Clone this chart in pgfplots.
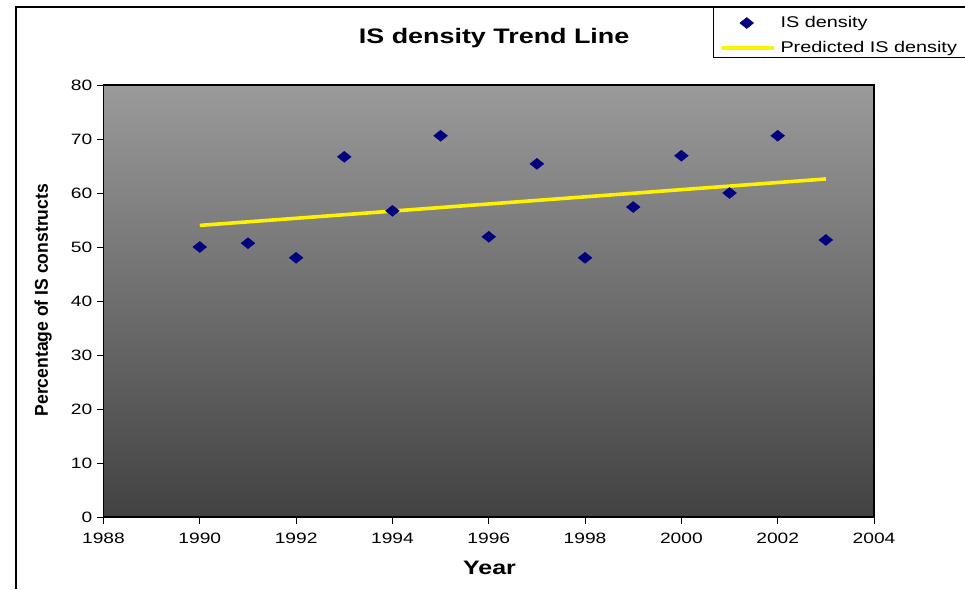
\documentclass[border=0pt]{standalone}
\usepackage{pgfplots}
\pgfplotsset{compat=1.18}
\usepackage{fontspec}
\setmainfont{Liberation Sans}[FakeStretch=1.28]
\newfontfamily\ylabfont{Liberation Sans}[FakeStretch=0.95]
\definecolor{bgtop}{RGB}{154,154,154}
\definecolor{bgbot}{RGB}{66,66,66}
\definecolor{navy}{RGB}{0,0,128}
\pgfplotsset{
  markleg/.style={legend image code/.code={\path (0pt,-2pt) (52pt,2pt);
     \draw[##1] plot coordinates {(25pt,0pt)};}},
  lineleg/.style={legend image code/.code={\path (0pt,-2pt) (52pt,2pt);
     \draw[##1] (0pt,0pt) -- (52pt,0pt);}},
}
\begin{document}
\begin{tikzpicture}[x=1pt,y=1pt]
\useasboundingbox (0,0) rectangle (965,589);
\begin{axis}[
  at={(103.5pt,72pt)}, anchor=south west,
  scale only axis, width=770.5pt, height=432pt,
  xmin=1988, xmax=2004, ymin=0, ymax=80,
  xtick distance=2, ytick distance=10,
  minor tick num=0,
  tick align=outside, major tick length=7pt,
  tick style={black, line width=0.9pt},
  axis line style={black, line width=1.6pt},
  xtick pos=bottom, ytick pos=left,
  axis background/.style={top color=bgtop, bottom color=bgbot},
  /pgf/number format/assume math mode=true,
  /pgf/number format/1000 sep={},
  tick label style={font=\fontsize{15}{18}\selectfont},
  yticklabel style={inner sep=0pt, xshift=-4pt},
  xticklabel style={inner sep=0pt, yshift=-9pt},
  title={IS density Trend Line},
  title style={at={(axis description cs:0.507,1.094)}, anchor=center,
    font=\fontsize{21}{24}\selectfont\bfseries},
  xlabel={Year},
  xlabel style={at={(axis description cs:0.501,-0.118)}, anchor=center,
    font=\fontsize{19.5}{22}\selectfont\bfseries},
  ylabel={Percentage of IS constructs},
  ylabel style={at={(axis description cs:-0.0785,0.502)}, anchor=center,
    font=\ylabfont\fontsize{18.5}{20}\selectfont\bfseries},
  legend style={draw=none, fill=none, inner sep=0pt, outer sep=0pt,
    at={(axis description cs:0.800,1.1597)}, anchor=north west,
    column sep=5pt, row sep=11pt,
    nodes={inner sep=0pt, text height=11pt, text depth=3pt, anchor=west},
    font=\fontsize{15.5}{18}\selectfont},
  legend cell align=left,
]
\addplot[only marks, mark=square*, mark size=3.9pt,
  mark options={draw=navy, fill=navy, xscale=1.25, rotate=45}, markleg]
  coordinates {
  (1990,50.0) (1991,50.7) (1992,48.0) (1993,66.7) (1994,56.7)
  (1995,70.6) (1996,51.9) (1997,65.4) (1998,48.0) (1999,57.4)
  (2000,66.9) (2001,60.0) (2002,70.6) (2003,51.3)};
\addlegendentry{IS density}
\addplot[no marks, color=yellow, line width=3.6pt, lineleg]
  coordinates {
  (1990,54.00) (1991,54.66) (1992,55.32) (1993,55.98) (1994,56.65)
  (1995,57.31) (1996,57.97) (1997,58.63) (1998,59.29) (1999,59.95)
  (2000,60.62) (2001,61.28) (2002,61.94) (2003,62.60)};
\addlegendentry{Predicted IS density}
\end{axis}
\draw[black, line width=1.2pt] (16,0) -- (16,582) -- (965,582);
\draw[black, line width=1pt] (713,582) -- (713,531) -- (965,531);
\end{tikzpicture}
\end{document}
